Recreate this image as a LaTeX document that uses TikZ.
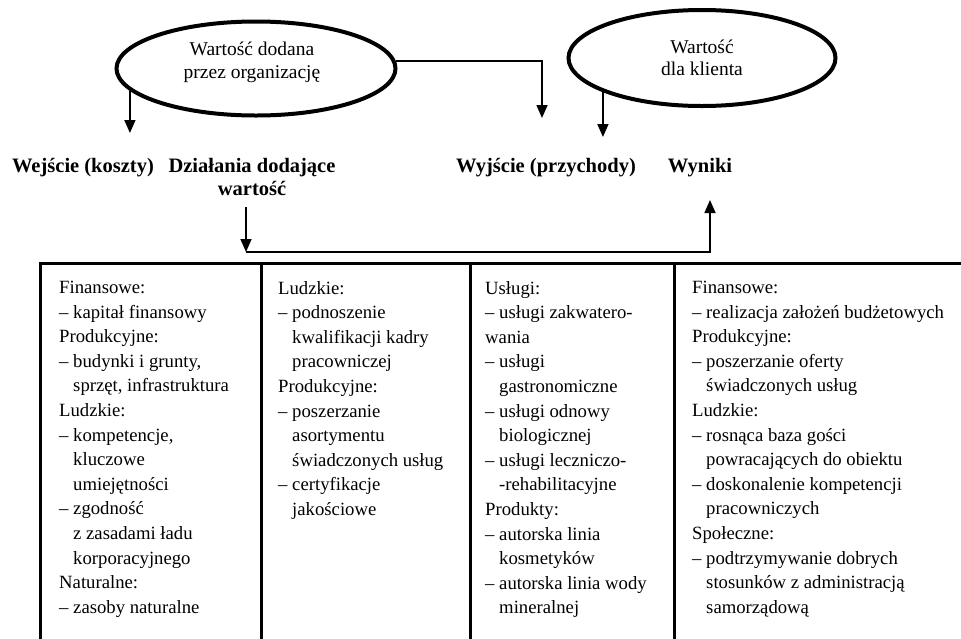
\documentclass[tikz,border=0pt]{standalone}
\usepackage{fontspec}
\setmainfont{Liberation Serif}
\usetikzlibrary{shapes.geometric,arrows.meta}
\tikzset{
  oval/.style={ellipse, draw, line width=4pt, inner sep=0pt, align=center, font=\fontsize{19.5}{22.5}\selectfont},
  ovaltext/.style={inner sep=0pt, align=center, font=\fontsize{19.5}{22.5}\selectfont},
  head/.style={inner sep=0pt, align=center, font=\fontsize{20.5}{23}\selectfont\bfseries},
  cell/.style={inner sep=0pt, anchor=north west, align=left, font=\fontsize{18.7}{24.6}\selectfont},
  conn/.style={line width=1.6pt},
  arr/.style={conn, -{Triangle[width=11pt,length=13pt]}},
  grid/.style={line width=3pt}
}
\newcommand{\ind}{\phantom{– }}
\begin{document}
\begin{tikzpicture}[x=1pt,y=-1pt]
\useasboundingbox (0,0) rectangle (961,638);

% ellipses
\node[oval, minimum width=279pt, minimum height=94pt] (el1) at (256,68.5) {};
\node[ovaltext, anchor=base] (el1t) at (252,78) {Wartość dodana\\przez organizację};
\node[oval, minimum width=267pt, minimum height=96pt] (el2) at (702,58) {Wartość\\dla klienta};

% headers
\node[head, anchor=base] (wej) at (83,172) {Wejście (koszty)};
\node[head, anchor=base] (dzi) at (252,172) {Działania dodające};
\node[head, anchor=base] (dzi2) at (252,195) {wartość};
\node[head, anchor=base] (wyj) at (546,172) {Wyjście (przychody)};
\node[head, anchor=base] (wyn) at (700,172) {Wyniki};

% free ends
\coordinate (t1) at (133,133);
\coordinate (t2) at (542,118);
\coordinate (t3) at (603,137);
\coordinate (s4) at (246,207);
\coordinate (t4) at (246,252);
\coordinate (t5) at (710,200);

\draw[arr] (el1.190.8) -- (el1.190.8 |- t1);
\draw[arr] (el1.3) -- (el1.3 -| t2) -- (t2);
\draw[arr] (el2.199) -- (el2.199 |- t3);
\draw[arr] (s4) -- (t4);
\draw[arr] (t4) -- (t4 -| t5) -- (t5);

% table
\coordinate (tl) at (40,263.5);
\draw[grid] (40,639) -- (tl) -- (962,263.5);
\draw[grid] (261,263.5) -- (261,639);
\draw[grid] (470,263.5) -- (470,639);
\draw[grid] (674,263.5) -- (674,639);

\node[cell] (c1) at (59,281) {Finansowe:\\– kapitał finansowy\\Produkcyjne:\\– budynki i grunty,\\\ind sprzęt, infrastruktura\\Ludzkie:\\– kompetencje,\\\ind kluczowe\\\ind umiejętności\\– zgodność\\\ind z zasadami ładu\\\ind korporacyjnego\\Naturalne:\\– zasoby naturalne};
\node[cell] (c2) at (278,281) {Ludzkie:\\– podnoszenie\\\ind kwalifikacji kadry\\\ind pracowniczej\\Produkcyjne:\\– poszerzanie\\\ind asortymentu\\\ind świadczonych usług\\– certyfikacje\\\ind jakościowe};
\node[cell] (c3) at (485,281) {Usługi:\\– usługi zakwatero-\\wania\\– usługi\\\ind gastronomiczne\\– usługi odnowy\\\ind biologicznej\\– usługi leczniczo-\\\ind -rehabilitacyjne\\Produkty:\\– autorska linia\\\ind kosmetyków\\– autorska linia wody\\\ind mineralnej};
\node[cell] (c4) at (692,281) {Finansowe:\\– realizacja założeń budżetowych\\Produkcyjne:\\– poszerzanie oferty\\\ind świadczonych usług\\Ludzkie:\\– rosnąca baza gości\\\ind powracających do obiektu\\– doskonalenie kompetencji\\\ind pracowniczych\\Społeczne:\\– podtrzymywanie dobrych\\\ind stosunków z administracją\\\ind samorządową};
\end{tikzpicture}
\end{document}
